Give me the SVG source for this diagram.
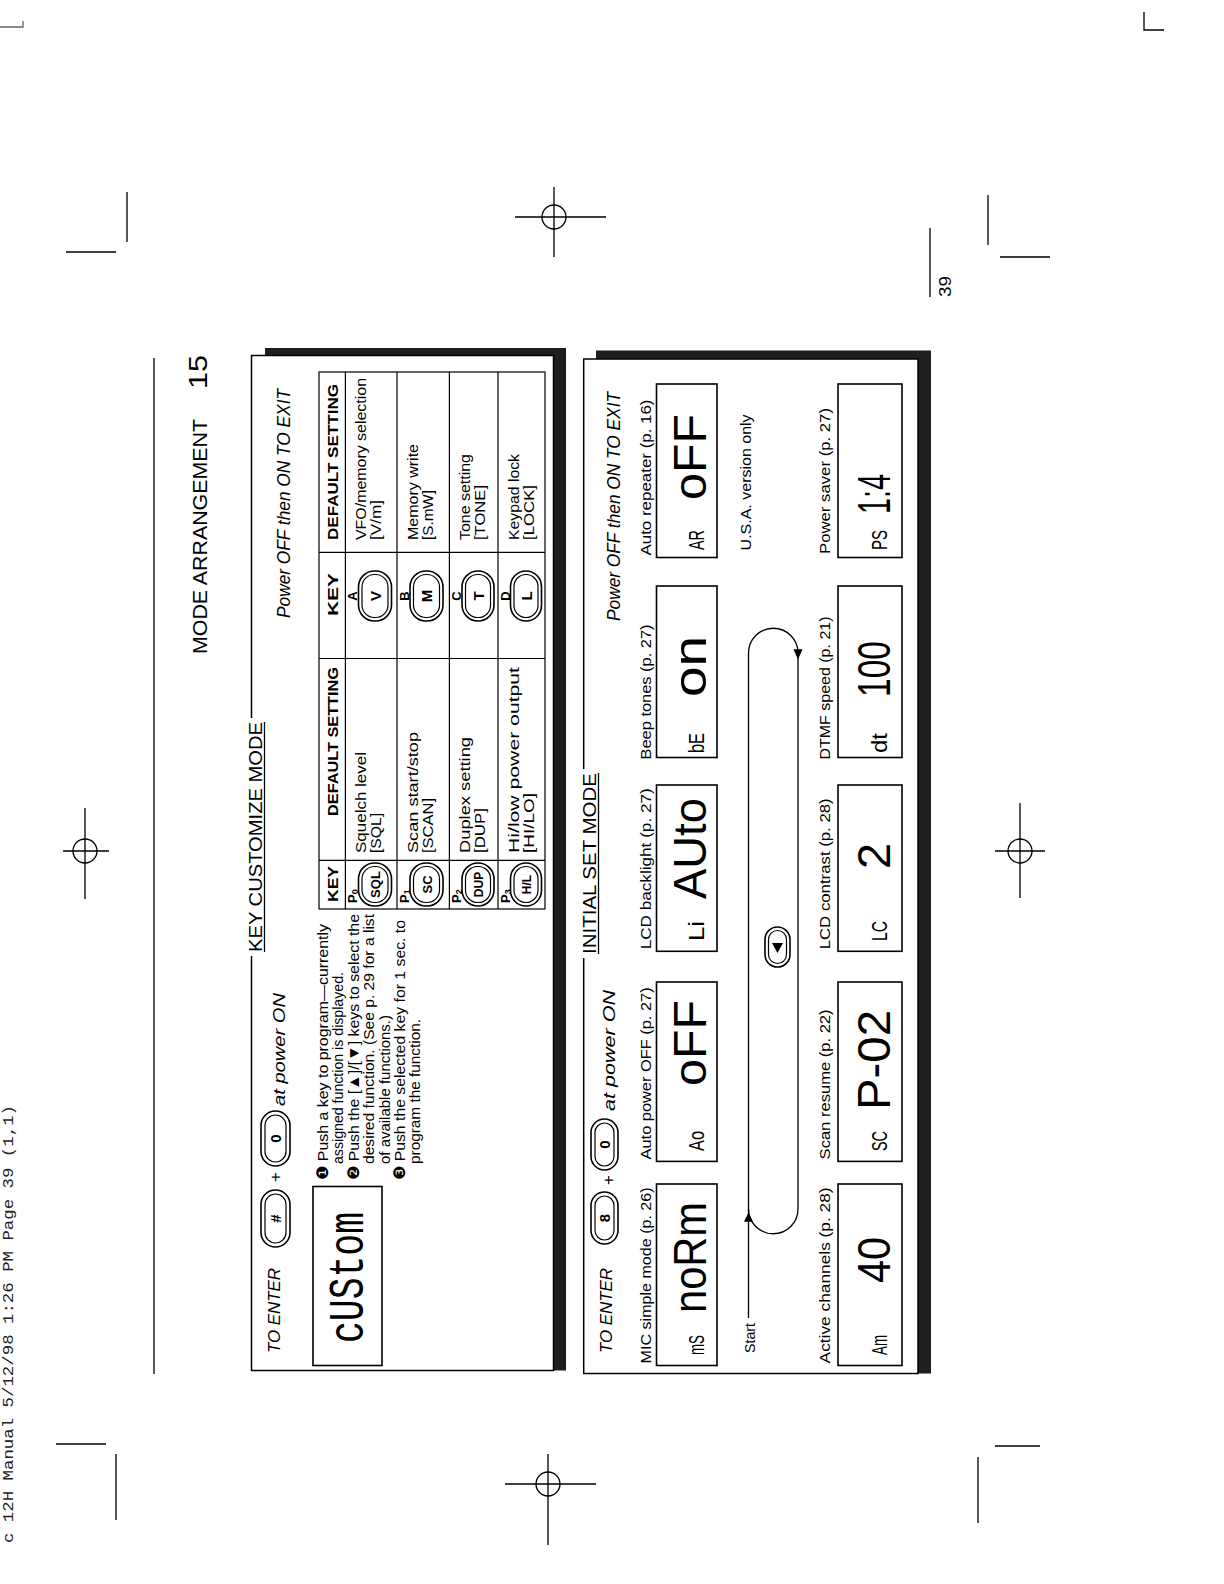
<svg xmlns="http://www.w3.org/2000/svg" width="1224" height="1584" viewBox="0 0 1224 1584">
<style>
text{font-family:"Liberation Sans",Arial,sans-serif;fill:#000}
.i{font-style:italic}
.b{font-weight:bold}
.mono{font-family:"Liberation Mono","Courier New",monospace;fill:#222}
.lcd{font-family:"Liberation Mono","Courier New",monospace}
.ln{stroke:#000;fill:none;stroke-width:1.3}
.box{fill:#fff;stroke:#000;stroke-width:1.5}
.shadow{fill:#1e1e1e}
.disp{fill:none;stroke:#000;stroke-width:1.6}
.btn{fill:#fff;stroke:#000;stroke-width:1.6}
.btn2{fill:none;stroke:#000;stroke-width:1.2}
.cell{fill:none;stroke:#000;stroke-width:1.2}
</style>
<rect width="1224" height="1584" fill="#fff"/>
<g id="crop-marks" class="ln">
  <path d="M0 27 H23 V21" stroke="#666"/>
  <path d="M1144 12 V30 H1164"/>
  <path d="M127 192 V242 M66 252 H116"/>
  <path d="M988 195 V245 M1000 257 H1050"/>
  <path d="M116 1454 V1520 M56 1444 H106"/>
  <path d="M978 1457 V1523 M995 1446 H1040"/>
  <g id="cross-top"><circle cx="554" cy="217" r="12"/><path d="M515 217 H606 M554 187 V257"/></g>
  <g id="cross-left"><circle cx="85" cy="851" r="12"/><path d="M63 851 H109 M85 808 V899"/></g>
  <g id="cross-right"><circle cx="1020" cy="851" r="12"/><path d="M995 851 H1045 M1020 803 V898"/></g>
  <g id="cross-bottom"><circle cx="548" cy="1484" r="12"/><path d="M505 1484 H596 M548 1454 V1545"/></g>
</g>
<g id="page" transform="translate(0,1584) rotate(-90)">
  <text id="margin-header" class="mono" x="41" y="13" font-size="15" textLength="438" lengthAdjust="spacingAndGlyphs">c 12H Manual  5/12/98 1:26 PM  Page 39 (1,1)</text>
  <g id="header">
    <path class="ln" d="M210 154 H1226" stroke-width="1.6"/>
    <text x="930" y="207" font-size="20" textLength="235" lengthAdjust="spacingAndGlyphs">MODE ARRANGEMENT</text>
    <text x="1195" y="207" font-size="26" textLength="34" lengthAdjust="spacingAndGlyphs">15</text>
  </g>
  <g id="page-number">
    <path class="ln" d="M1287 930 H1356" stroke-width="1.6"/>
    <text x="1287" y="951" font-size="17" textLength="21" lengthAdjust="spacingAndGlyphs">39</text>
  </g>

  <g id="key-customize">
    <rect class="shadow" x="213.5" y="265" width="1022.5" height="301"/>
    <rect class="box" x="213.5" y="251.5" width="1015" height="302"/>
    <rect x="628" y="240" width="238" height="22" fill="#fff"/>
    <text x="632" y="262" font-size="19" textLength="230" lengthAdjust="spacingAndGlyphs">KEY CUSTOMIZE MODE</text>
    <path class="ln" d="M632 264.5 H862"/>
    <text class="i" x="231" y="280" font-size="17" textLength="85" lengthAdjust="spacingAndGlyphs">TO ENTER</text>
    <g id="btn-hash">
      <rect class="btn" x="337" y="261" width="57" height="29" rx="14.5"/>
      <rect class="btn2" x="341" y="265" width="49" height="21" rx="10.5"/>
      <text class="b" x="365.5" y="281" font-size="15" text-anchor="middle">#</text>
    </g>
    <text x="407" y="281" font-size="17" text-anchor="middle">+</text>
    <g id="btn-0a">
      <rect class="btn" x="418" y="261" width="55" height="29" rx="14.5"/>
      <rect class="btn2" x="422" y="265" width="47" height="21" rx="10.5"/>
      <text class="b" x="445.5" y="281" font-size="15" text-anchor="middle">0</text>
    </g>
    <text class="i" x="478" y="285" font-size="17" textLength="113" lengthAdjust="spacingAndGlyphs">at power ON</text>
    <text class="i" x="966" y="290" font-size="18" textLength="229" lengthAdjust="spacingAndGlyphs">Power OFF then ON TO EXIT</text>

    <g id="disp-custom">
      <rect class="disp" x="218.5" y="313" width="179" height="69"/>
      <text class="lcd" x="241" y="363" font-size="50" textLength="131" lengthAdjust="spacingAndGlyphs">cUStom</text>
    </g>

    <g id="instructions" font-size="15.5">
      <text x="404" y="328" textLength="256" lengthAdjust="spacingAndGlyphs">❶ Push a key to program—currently</text>
      <text x="420" y="343" textLength="192" lengthAdjust="spacingAndGlyphs">assigned function is displayed.</text>
      <text x="404" y="358.5" textLength="266" lengthAdjust="spacingAndGlyphs">❷ Push the [▲]/[▼] keys to select the</text>
      <text x="420" y="374" textLength="250" lengthAdjust="spacingAndGlyphs">desired function. (See p. 29 for a list</text>
      <text x="420" y="390" textLength="149" lengthAdjust="spacingAndGlyphs">of available functions.)</text>
      <text x="404" y="405" textLength="260" lengthAdjust="spacingAndGlyphs">❸ Push the selected key for 1 sec. to</text>
      <text x="420" y="420" textLength="145" lengthAdjust="spacingAndGlyphs">program the function.</text>
    </g>

    <g id="key-table">
      <rect class="cell" x="675" y="319" width="537" height="226"/>
      <path class="cell" d="M675 345.4 H1212 M675 397 H1212 M675 449.4 H1212 M675 498 H1212 M723.6 319 V545 M925.5 319 V545 M1031.6 319 V545"/>
      <g class="b" font-size="14">
        <text x="682" y="338" textLength="36" lengthAdjust="spacingAndGlyphs">KEY</text>
        <text x="768" y="338" textLength="149" lengthAdjust="spacingAndGlyphs">DEFAULT SETTING</text>
        <text x="968" y="338" textLength="43" lengthAdjust="spacingAndGlyphs">KEY</text>
        <text x="1044" y="338" textLength="156" lengthAdjust="spacingAndGlyphs">DEFAULT SETTING</text>
      </g>
      <g font-size="15.5">
        <text x="731" y="366" textLength="101" lengthAdjust="spacingAndGlyphs">Squelch level</text>
        <text x="731" y="381" textLength="40" lengthAdjust="spacingAndGlyphs">[SQL]</text>
        <text x="731" y="418" textLength="121" lengthAdjust="spacingAndGlyphs">Scan start/stop</text>
        <text x="731" y="433" textLength="55" lengthAdjust="spacingAndGlyphs">[SCAN]</text>
        <text x="731" y="470" textLength="116" lengthAdjust="spacingAndGlyphs">Duplex setting</text>
        <text x="731" y="485" textLength="45" lengthAdjust="spacingAndGlyphs">[DUP]</text>
        <text x="731" y="519" textLength="186" lengthAdjust="spacingAndGlyphs">Hi/low power output</text>
        <text x="731" y="534" textLength="60" lengthAdjust="spacingAndGlyphs">[HI/LO]</text>
        <text x="1044" y="366" textLength="162" lengthAdjust="spacingAndGlyphs">VFO/memory selection</text>
        <text x="1044" y="381" textLength="40" lengthAdjust="spacingAndGlyphs">[V/m]</text>
        <text x="1044" y="418" textLength="96" lengthAdjust="spacingAndGlyphs">Memory write</text>
        <text x="1044" y="433" textLength="50" lengthAdjust="spacingAndGlyphs">[S.mW]</text>
        <text x="1044" y="470" textLength="86" lengthAdjust="spacingAndGlyphs">Tone setting</text>
        <text x="1044" y="485" textLength="55" lengthAdjust="spacingAndGlyphs">[TONE]</text>
        <text x="1044" y="519" textLength="86" lengthAdjust="spacingAndGlyphs">Keypad lock</text>
        <text x="1044" y="534" textLength="55" lengthAdjust="spacingAndGlyphs">[LOCK]</text>
      </g>
      <g font-size="13" class="b">
        <text x="681" y="357">P<tspan font-size="9" dy="1">0</tspan></text>
        <text x="681" y="409">P<tspan font-size="9" dy="1">1</tspan></text>
        <text x="681" y="461">P<tspan font-size="9" dy="1">2</tspan></text>
        <text x="681" y="509.5">P<tspan font-size="9" dy="1">3</tspan></text>
        <text x="988" y="357" text-anchor="middle">A</text>
        <text x="988" y="409" text-anchor="middle">B</text>
        <text x="988" y="461" text-anchor="middle">C</text>
        <text x="988" y="509.5" text-anchor="middle">D</text>
      </g>
      <g id="row-p0">
        <rect class="btn" x="678" y="358.5" width="43" height="33" rx="16"/>
        <rect class="btn2" x="681.5" y="362" width="36" height="26" rx="12.5"/>
        <text class="b" x="699.5" y="380" font-size="13" text-anchor="middle">SQL</text>
        <rect class="btn" x="963" y="358.5" width="50" height="33" rx="16"/>
        <rect class="btn2" x="966.5" y="362" width="43" height="26" rx="12.5"/>
        <text class="b" x="988" y="380.5" font-size="15" text-anchor="middle">V</text>
      </g>
      <g id="row-p1">
        <rect class="btn" x="678" y="410" width="43" height="33" rx="16"/>
        <rect class="btn2" x="681.5" y="413.5" width="36" height="26" rx="12.5"/>
        <text class="b" x="699.5" y="431.5" font-size="13" text-anchor="middle">SC</text>
        <rect class="btn" x="963" y="410" width="50" height="33" rx="16"/>
        <rect class="btn2" x="966.5" y="413.5" width="43" height="26" rx="12.5"/>
        <text class="b" x="988" y="432" font-size="15" text-anchor="middle">M</text>
      </g>
      <g id="row-p2">
        <rect class="btn" x="678" y="462" width="43" height="32" rx="16"/>
        <rect class="btn2" x="681.5" y="465.5" width="36" height="25" rx="12"/>
        <text class="b" x="699.5" y="482.5" font-size="12" text-anchor="middle">DUP</text>
        <rect class="btn" x="963" y="462" width="50" height="32" rx="16"/>
        <rect class="btn2" x="966.5" y="465.5" width="43" height="25" rx="12"/>
        <text class="b" x="988" y="483.5" font-size="15" text-anchor="middle">T</text>
      </g>
      <g id="row-p3">
        <rect class="btn" x="678" y="510.5" width="43" height="31" rx="15.5"/>
        <rect class="btn2" x="681.5" y="514" width="36" height="24" rx="12"/>
        <text class="b" x="699.5" y="530.5" font-size="12" text-anchor="middle">H/L</text>
        <rect class="btn" x="963" y="510.5" width="50" height="31" rx="15.5"/>
        <rect class="btn2" x="966.5" y="514" width="43" height="24" rx="12"/>
        <text class="b" x="988" y="531.5" font-size="15" text-anchor="middle">L</text>
      </g>
    </g>
  </g>

  <g id="initial-set">
    <rect class="shadow" x="210.5" y="596" width="1023" height="335"/>
    <rect class="box" x="210.5" y="583.7" width="1014.5" height="334.3"/>
    <rect x="626" y="572" width="189" height="22" fill="#fff"/>
    <text x="630" y="596" font-size="19" textLength="181" lengthAdjust="spacingAndGlyphs">INITIAL SET MODE</text>
    <path class="ln" d="M630 598.5 H811"/>
    <text class="i" x="231" y="612" font-size="17" textLength="85" lengthAdjust="spacingAndGlyphs">TO ENTER</text>
    <g id="btn-8">
      <rect class="btn" x="340" y="591" width="52" height="27" rx="13.5"/>
      <rect class="btn2" x="344" y="595" width="44" height="19" rx="9.5"/>
      <text class="b" x="366" y="610" font-size="15" text-anchor="middle">8</text>
    </g>
    <text x="404" y="614" font-size="17" text-anchor="middle">+</text>
    <g id="btn-0b">
      <rect class="btn" x="414" y="591" width="51" height="27" rx="13.5"/>
      <rect class="btn2" x="418" y="595" width="43" height="19" rx="9.5"/>
      <text class="b" x="439.5" y="610" font-size="15" text-anchor="middle">0</text>
    </g>
    <text class="i" x="473" y="615" font-size="17" textLength="121" lengthAdjust="spacingAndGlyphs">at power ON</text>
    <text class="i" x="963" y="620" font-size="18" textLength="229" lengthAdjust="spacingAndGlyphs">Power OFF then ON TO EXIT</text>

    <g font-size="15">
      <text x="220.6" y="651" textLength="176" lengthAdjust="spacingAndGlyphs">MIC simple mode (p. 26)</text>
      <text x="424.6" y="651" textLength="172" lengthAdjust="spacingAndGlyphs">Auto power OFF (p. 27)</text>
      <text x="634.7" y="651" textLength="161" lengthAdjust="spacingAndGlyphs">LCD backlight (p. 27)</text>
      <text x="824.5" y="651" textLength="135" lengthAdjust="spacingAndGlyphs">Beep tones (p. 27)</text>
      <text x="1028.5" y="651" textLength="156" lengthAdjust="spacingAndGlyphs">Auto repeater (p. 16)</text>
      <text x="1033.6" y="751" textLength="136" lengthAdjust="spacingAndGlyphs">U.S.A. version only</text>
      <text x="231" y="755" textLength="30" lengthAdjust="spacingAndGlyphs">Start</text>
      <text x="220.6" y="830" textLength="176" lengthAdjust="spacingAndGlyphs">Active channels (p. 28)</text>
      <text x="424.6" y="830" textLength="150" lengthAdjust="spacingAndGlyphs">Scan resume (p. 22)</text>
      <text x="634.7" y="830" textLength="151" lengthAdjust="spacingAndGlyphs">LCD contrast (p. 28)</text>
      <text x="824.5" y="830" textLength="143" lengthAdjust="spacingAndGlyphs">DTMF speed (p. 21)</text>
      <text x="1030" y="830" textLength="146" lengthAdjust="spacingAndGlyphs">Power saver (p. 27)</text>
    </g>

    <g class="lcd">
      <g id="d-mic"><rect class="disp" x="218.5" y="656.5" width="181.5" height="60.5"/>
        <text x="229" y="704" font-size="22" textLength="20" lengthAdjust="spacingAndGlyphs">mS</text><text x="271" y="706" font-size="46" textLength="111" lengthAdjust="spacingAndGlyphs">noRm</text></g>
      <g id="d-apo"><rect class="disp" x="422.6" y="656.5" width="179.4" height="60.5"/>
        <text x="433" y="704" font-size="22" textLength="20" lengthAdjust="spacingAndGlyphs">Ao</text><text x="498" y="706" font-size="46" textLength="86" lengthAdjust="spacingAndGlyphs">oFF</text></g>
      <g id="d-lcdb"><rect class="disp" x="632.7" y="656.5" width="166.3" height="60.5"/>
        <text x="643" y="704" font-size="22" textLength="20" lengthAdjust="spacingAndGlyphs">Li</text><text x="685" y="706" font-size="46" textLength="101" lengthAdjust="spacingAndGlyphs">AUto</text></g>
      <g id="d-beep"><rect class="disp" x="826.5" y="656.5" width="171.5" height="60.5"/>
        <text x="831" y="704" font-size="22" textLength="20" lengthAdjust="spacingAndGlyphs">bE</text><text x="887" y="706" font-size="46" textLength="61" lengthAdjust="spacingAndGlyphs">on</text></g>
      <g id="d-ar"><rect class="disp" x="1026.5" y="656.5" width="173.5" height="60.5"/>
        <text x="1034" y="704" font-size="22" textLength="20" lengthAdjust="spacingAndGlyphs">AR</text><text x="1084" y="706" font-size="46" textLength="86" lengthAdjust="spacingAndGlyphs">oFF</text></g>
      <g id="d-ach"><rect class="disp" x="218.5" y="838" width="181.5" height="64"/>
        <text x="229" y="887" font-size="22" textLength="20" lengthAdjust="spacingAndGlyphs">Am</text><text x="301" y="890" font-size="46" textLength="46" lengthAdjust="spacingAndGlyphs">40</text></g>
      <g id="d-scan"><rect class="disp" x="422.6" y="838" width="179.4" height="64"/>
        <text x="433" y="887" font-size="22" textLength="20" lengthAdjust="spacingAndGlyphs">SC</text><text x="474" y="890" font-size="46" textLength="100" lengthAdjust="spacingAndGlyphs">P-02</text></g>
      <g id="d-lcdc"><rect class="disp" x="632.7" y="838" width="166.3" height="64"/>
        <text x="643" y="887" font-size="22" textLength="20" lengthAdjust="spacingAndGlyphs">LC</text><text x="715" y="890" font-size="46" textLength="26" lengthAdjust="spacingAndGlyphs">2</text></g>
      <g id="d-dtmf"><rect class="disp" x="826.5" y="838" width="171.5" height="64"/>
        <text x="831" y="887" font-size="22" textLength="20" lengthAdjust="spacingAndGlyphs">dt</text><text x="887" y="890" font-size="46" textLength="56" lengthAdjust="spacingAndGlyphs">100</text></g>
      <g id="d-ps"><rect class="disp" x="1026.5" y="838" width="173.5" height="64"/>
        <text x="1034" y="887" font-size="22" textLength="20" lengthAdjust="spacingAndGlyphs">PS</text><text x="1070" y="890" font-size="46" textLength="40" lengthAdjust="spacingAndGlyphs">1:4</text></g>
    </g>

    <g id="btn-left">
      <rect class="btn" x="617" y="765" width="40" height="25" rx="12.5"/>
      <rect class="btn2" x="620.5" y="768.5" width="33" height="18" rx="9"/>
      <path d="M631 777.5 L641 772 V783 Z" fill="#000"/>
    </g>
  </g>

  <g id="connectors" class="ln">
    <path d="M266 748.5 H375"/>
    <path d="M375 748.5 H931 A24.75 24.75 0 0 1 931 798 H375 A24.75 24.75 0 0 1 375 748.5 Z"/>
    <path d="M370 748.5 L363 745 V752 Z" fill="#000"/>
    <path d="M926 798 L934 794.5 V801.5 Z" fill="#000"/>
  </g>
</g>
</svg>
